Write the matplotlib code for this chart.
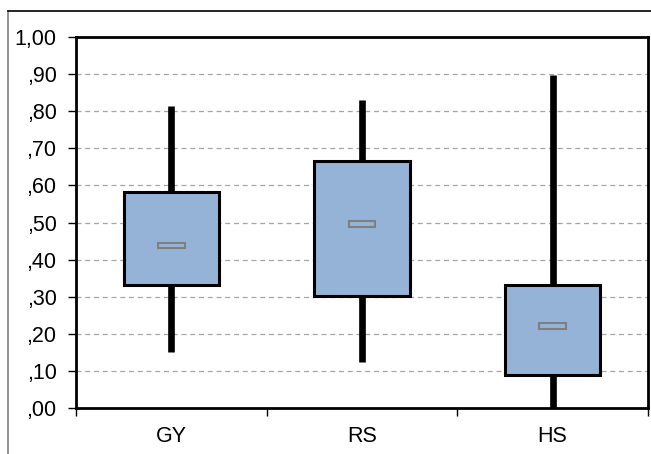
import matplotlib
matplotlib.use("Agg")
import matplotlib.pyplot as plt
from matplotlib.lines import Line2D

plt.rcParams["font.family"] = ["Liberation Sans", "DejaVu Sans"]

groups = ["GY", "RS", "HS"]
whisker_low = [0.152, 0.124, 0.0]
q1 = [0.332, 0.302, 0.089]
median = [0.437, 0.496, 0.221]
q3 = [0.582, 0.665, 0.332]
whisker_high = [0.814, 0.830, 0.898]
y_ticks = [0.0, 0.1, 0.2, 0.3, 0.4, 0.5, 0.6, 0.7, 0.8, 0.9, 1.0]
y_labels = [",00", ",10", ",20", ",30", ",40", ",50", ",60", ",70", ",80", ",90", "1,00"]

box_color = "#95B3D7"

fig = plt.figure(figsize=(6.51, 4.54), dpi=100)
ax = fig.add_axes([0.1167, 0.1013, 0.8787, 0.8172])

x = [i + 0.5 for i in range(len(groups))]
ax.vlines(x, whisker_low, whisker_high, color="black", linewidth=4.8, zorder=2)
heights = [b - a for a, b in zip(q1, q3)]
ax.bar(x, heights, bottom=q1, width=0.5, color=box_color, edgecolor="black",
       linewidth=2.2, zorder=3)
ax.bar(x, 0.014, bottom=[m - 0.007 for m in median], width=0.14, color=box_color,
       edgecolor="#7f7f7f", linewidth=1.5, zorder=4)

ax.set_xlim(0, 3)
ax.set_ylim(0, 1.0)
ax.set_yticks(y_ticks)
ax.set_yticklabels(y_labels)
ax.set_xticks(x)
ax.set_xticklabels(groups)
ax.set_xticks([0, 1, 2, 3], minor=True)
ax.tick_params(axis="x", which="major", length=0, pad=13, labelsize=15.5)
ax.tick_params(axis="x", which="minor", length=6, width=1, direction="out")
ax.tick_params(axis="y", length=6, width=1, direction="out", labelsize=15.5, pad=8)

ax.yaxis.grid(True, linestyle=(0, (4, 3)), color="#a6a6a6", linewidth=0.9)
ax.set_axisbelow(True)
for s in ax.spines.values():
    s.set_linewidth(2)
    s.set_color("black")

# chart area border (cropped on right/bottom)
fig.add_artist(Line2D([8 / 651, 8 / 651], [0, 1 - 11 / 454], color="#808080", linewidth=1.2))
fig.add_artist(Line2D([8 / 651, 1], [1 - 11 / 454, 1 - 11 / 454], color="black", linewidth=1.2))

fig.savefig("out.png", dpi=100)
